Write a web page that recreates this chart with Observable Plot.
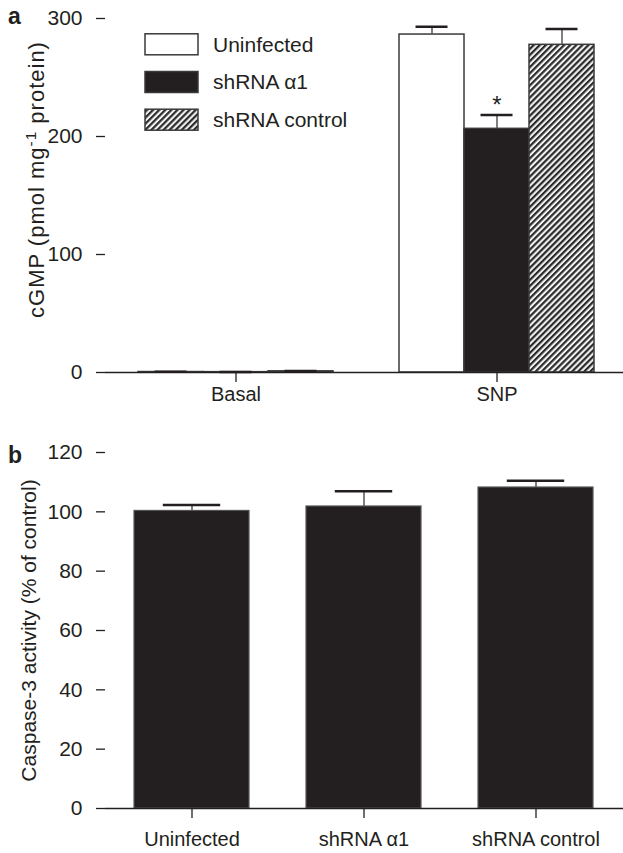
<!DOCTYPE html>
<html><head><meta charset="utf-8">
<script src="https://cdn.jsdelivr.net/npm/d3@7"></script>
<script src="https://cdn.jsdelivr.net/npm/@observablehq/plot@0.6"></script>
<style>
html,body{margin:0;padding:0;background:#fff;}
#wrap{position:relative;width:623px;height:853px;font-family:"Liberation Sans",Arial,sans-serif;}
#wrap svg{display:block;}
.letter{position:absolute;left:8px;font-weight:bold;font-size:23px;line-height:23px;color:#231f20;}
</style></head><body>
<div id="wrap"></div>
<script>
// ---- data ----
const series = ["Uninfected", "shRNA α1", "shRNA control"];
const groupsA = ["Basal", "SNP"];
const cgmpBasal = [0.4, 0.3, 1.0];
const cgmpBasalErr = [0.2, 0.2, 0.3];
const cgmpSNP = [286.4, 206.5, 277.7];
const cgmpSNPErr = [6.7, 11.8, 13.3];
const yTicksA = [0, 100, 200, 300];
const yLabelA = "cGMP (pmol mg-1 protein)";
const caspase = [100.3, 101.8, 108.2];
const caspaseErr = [2.0, 5.1, 2.3];
const yTicksB = [0, 20, 40, 60, 80, 100, 120];
const yLabelB = "Caspase-3 activity (% of control)";
const starGroup = "SNP", starSeries = "shRNA α1";

const ink = "#231f20";
const font = "Liberation Sans, Arial, sans-serif";
const wrap = document.getElementById("wrap");

// ---- panel a ----
const dataA = [];
groupsA.forEach((g, gi) => series.forEach((s, si) => dataA.push({
  group: g, series: s,
  value: gi === 0 ? cgmpBasal[si] : cgmpSNP[si],
  err: gi === 0 ? cgmpBasalErr[si] : cgmpSNPErr[si]
})));
const starData = dataA.filter(d => d.group === starGroup && d.series === starSeries);

const plotA = Plot.plot({
  width: 623, height: 415,
  marginLeft: 105, marginRight: -4, marginTop: 18, marginBottom: 43,
  style: {fontFamily: font, color: ink, background: "white", overflow: "visible"},
  fx: {domain: groupsA, padding: 0},
  x: {domain: series, paddingInner: 0, paddingOuter: 0.48, axis: null},
  y: {domain: [0, 300]},
  color: {domain: series, range: ["#ffffff", ink, "url(#hatchA)"]},
  marks: [
    Plot.barY(dataA, {fx: "group", x: "series", y: "value", fill: "series", stroke: "#3a3a3a", strokeWidth: 1.5}),
    Plot.ruleX(dataA, {fx: "group", x: "series", y1: "value", y2: d => d.value + d.err, stroke: "#555", strokeWidth: 1.5}),
    Plot.tickY(dataA, {fx: "group", x: "series", y: d => d.value + d.err, stroke: ink, strokeWidth: 2.5, insetLeft: 16.5, insetRight: 16.5}),
    Plot.ruleY([0], {stroke: ink, strokeWidth: 1.5}),
    Plot.text(starData, {fx: "group", x: "series", y: d => d.value + d.err, text: () => "*", fontSize: 24, dy: -10, fill: ink}),
    Plot.axisY({ticks: yTicksA, tickSize: 9, tickPadding: 14, fontSize: 21, line: true, label: null, strokeWidth: 1.3}),
    Plot.axisFx({anchor: "bottom", tickSize: 10, tickPadding: 4, fontSize: 20, label: null, strokeWidth: 1.3}),
    Plot.text([{group: groupsA[0], label: yLabelA}], {fx: "group", text: "label", frameAnchor: "left", textAnchor: "middle", rotate: -90, dx: -62, dy: -16, lineAnchor: "bottom", fontSize: 22, fill: ink})
  ]
});
wrap.appendChild(plotA);

// pattern + superscript + legend for panel a
const svgA = d3.select(plotA);
const defs = svgA.insert("defs", ":first-child");
const pat = defs.append("pattern").attr("id", "hatchA").attr("patternUnits", "userSpaceOnUse")
  .attr("width", 4.3).attr("height", 10).attr("patternTransform", "rotate(45)");
pat.append("rect").attr("width", 4.3).attr("height", 10).attr("fill", "#f2f2f2");
pat.append("rect").attr("width", 2.2).attr("height", 10).attr("fill", "#2a2a2a");

svgA.selectAll("text").filter(function() { return this.textContent === yLabelA; })
  .attr("letter-spacing", "1px")
  .html('cGMP (pmol mg<tspan baseline-shift="super" font-size="70%">-1</tspan> protein)');

const legendFills = ["#ffffff", ink, "url(#hatchA)"];
const leg = svgA.append("g").attr("font-family", font).attr("font-size", 21).attr("fill", ink).attr("text-anchor", "start");
series.forEach((s, i) => {
  const cy = 44.3 + i * 37.7;
  leg.append("rect").attr("x", 145).attr("y", cy - 10.5).attr("width", 53).attr("height", 21)
    .attr("fill", legendFills[i]).attr("stroke", "#3a3a3a").attr("stroke-width", 1.5);
  leg.append("text").attr("x", 213).attr("y", cy).attr("dy", "0.35em").attr("text-anchor", "start").text(s);
});

// ---- panel b ----
const dataB = series.map((s, i) => ({series: s, value: caspase[i], err: caspaseErr[i]}));
const plotB = Plot.plot({
  width: 623, height: 438,
  marginLeft: 105, marginRight: 0, marginTop: 37, marginBottom: 45,
  style: {fontFamily: font, color: ink, background: "white", overflow: "visible"},
  x: {domain: series, paddingInner: 0.33, paddingOuter: 0.165},
  y: {domain: [0, 120]},
  marks: [
    Plot.barY(dataB, {x: "series", y: "value", fill: ink, stroke: "#555", strokeWidth: 1.2}),
    Plot.ruleX(dataB, {x: "series", y1: "value", y2: d => d.value + d.err, stroke: "#555", strokeWidth: 1.5}),
    Plot.tickY(dataB, {x: "series", y: d => d.value + d.err, stroke: ink, strokeWidth: 2.5, insetLeft: 28.8, insetRight: 28.8}),
    Plot.ruleY([0], {stroke: ink, strokeWidth: 1.5}),
    Plot.axisY({ticks: yTicksB, tickSize: 9, tickPadding: 14, fontSize: 21, line: true, label: null, strokeWidth: 1.3}),
    Plot.axisX({tickSize: 10, tickPadding: 13, fontSize: 20, label: null, strokeWidth: 1.3}),
    Plot.text([yLabelB], {frameAnchor: "left", textAnchor: "middle", rotate: -90, dx: -70, lineAnchor: "bottom", fontSize: 21, fill: ink})
  ]
});
wrap.appendChild(plotB);

// panel letters
const la = document.createElement("div"); la.className = "letter"; la.style.top = "5px"; la.textContent = "a"; wrap.appendChild(la);
const lb = document.createElement("div"); lb.className = "letter"; lb.style.top = "444px"; lb.textContent = "b"; wrap.appendChild(lb);
</script>
</body></html>
